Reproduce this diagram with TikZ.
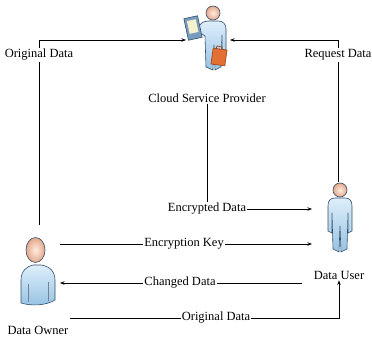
\documentclass[tikz,border=0pt]{standalone}
\usepackage{fontspec}
\setmainfont{Liberation Serif}
\usetikzlibrary{arrows.meta}
\definecolor{bodyLight}{RGB}{222,238,250}
\definecolor{bodyMid}{RGB}{150,195,228}
\definecolor{iconLine}{RGB}{52,78,104}
\definecolor{skinLight}{RGB}{253,236,224}
\definecolor{skinDark}{RGB}{228,168,138}
\definecolor{caseOrange}{RGB}{226,112,52}
\definecolor{caseDark}{RGB}{150,64,24}
\definecolor{tabletBody}{RGB}{120,156,190}
\definecolor{tabletScreen}{RGB}{244,242,206}
\tikzset{
  lbl/.style={inner sep=1pt,fill=white,font=\fontsize{12.5}{15}\selectfont},
  iconbox/.style={inner sep=0pt,outer sep=0pt,draw=none},
  link/.style={draw=black,line width=0.75pt},
  arr/.style={link,-{Stealth[length=4.5pt,width=3.5pt]}},
  body/.style={top color=bodyLight,bottom color=bodyMid,draw=iconLine,line width=0.6pt,line join=round},
  head/.style={inner color=skinLight,outer color=skinDark,draw=iconLine,line width=0.6pt}
}
\begin{document}
\begin{tikzpicture}[x=1pt,y=-1pt]
\path[use as bounding box] (0,0) rectangle (372,339);
\path[fill=white,draw=none] (0,0) rectangle (372,339);
% Data Owner (bust)
\shade[body] (21,303) -- (21,280) .. controls (21,271) and (27,266) .. (33,265) -- (41,265) .. controls (49,266) and (55,271) .. (55,280) -- (55,300) .. controls (45,306) and (31,306) .. (21,303) -- cycle;
\draw[iconLine!70,line width=0.5pt] (28,284) -- (28,302) (48,282) -- (48,301);
\shade[head] (35.5,250) ellipse [x radius=9.5,y radius=12.5];
\node[iconbox,minimum width=40pt,minimum height=80pt,outer sep=3pt] (owner) at (37,268) {};
% Data User (standing)
\shade[body] (335,198) -- (345,198) .. controls (350,198) and (352,201) .. (352,206) -- (352,231) -- (348,233) -- (348,213) -- (347,249) -- (341,252) -- (340,226) -- (339,252) -- (333,249) -- (332,213) -- (332,233) -- (328,231) -- (328,206) .. controls (328,201) and (330,198) .. (335,198) -- cycle;
\shade[head] (340,190) circle [radius=7];
\node[iconbox,minimum width=56pt,minimum height=68pt] (user) at (340,216) {};
% Cloud Service Provider (with tablet and briefcase)
\shade[body] (208,21) -- (218,21) .. controls (223,21) and (226,24) .. (226,29) -- (226,50) -- (222,52) -- (222,35) -- (221,67) -- (215,70) -- (214,45) -- (213,70) -- (206,67) -- (205,36) -- (202,34) -- (197,38) -- (194,35) -- (200,25) .. controls (202,22) and (205,21) .. (208,21) -- cycle;
\shade[head] (213,13) circle [radius=7];
\filldraw[fill=tabletBody,draw=iconLine,line width=0.6pt,rotate around={12:(193,28)}] (186,17) rectangle (200,39);
\filldraw[fill=tabletScreen,draw=none,rotate around={12:(193,28)}] (188.5,20) rectangle (197.5,33);
\draw[caseDark,line width=0.7pt] (216,49) -- (217,46) -- (222,47) -- (222,50);
\filldraw[fill=caseOrange,draw=caseDark,line width=0.6pt,rotate around={-8:(219,57)}] (212,49) rectangle (226,65);
\node[iconbox,minimum width=44pt,minimum height=70pt] (cloud) at (208,40) {};
% labels
\node[lbl] (lblCloud) at (207,98) {Cloud Service Provider};
\node[lbl] (lblOwner) at (38,330) {Data Owner};
\node[lbl] (lblUser) at (339,275) {Data User};
\node[lbl] (lblOrigTop) at (39,55) {Original Data};
\node[lbl] (lblReq) at (338,55) {Request Data};
\node[lbl] (lblEnc) at (207,209) {Encrypted Data};
\node[lbl] (lblKey) at (184,244) {Encryption Key};
\node[lbl] (lblChg) at (180,283) {Changed Data};
\node[lbl] (lblOrigBot) at (216,318) {Original Data};
\coordinate (userOut) at (302,283);
\coordinate (ownerOut) at (70,318);
% connectors
\draw[link] (owner.north -| lblOrigTop) -- (lblOrigTop.south);
\draw[arr] (lblOrigTop.north) |- (cloud.west);
\draw[link] (user.north -| lblReq) -- (lblReq.south);
\draw[arr] (lblReq.north) |- (cloud.east);
\draw[link] (lblCloud.south) -- (lblEnc.north);
\draw[arr] (lblEnc.east) -- (user.west |- lblEnc);
\draw[link] (owner.east |- lblKey) -- (lblKey.west);
\draw[arr] (lblKey.east) -- (user.west |- lblKey);
\draw[link] (userOut) -- (lblChg.east);
\draw[arr] (lblChg.west) -- (owner.east |- lblChg);
\draw[link] (ownerOut) -- (lblOrigBot.west);
\draw[arr] (lblOrigBot.east) -| (lblUser.south);
\end{tikzpicture}
\end{document}
